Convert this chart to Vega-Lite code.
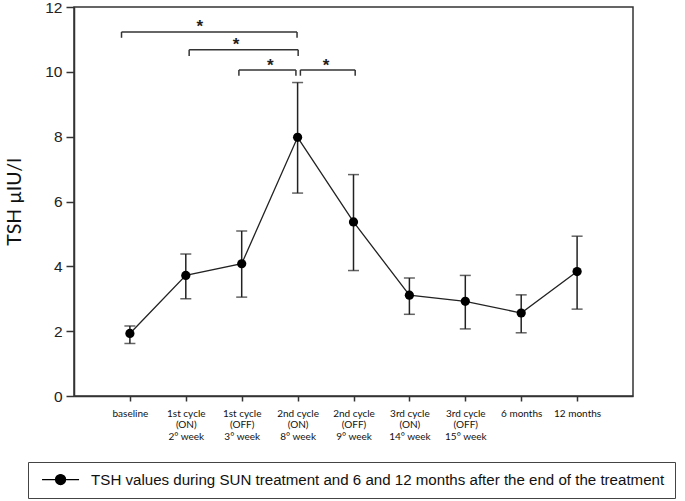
{
  "$schema": "https://vega.github.io/schema/vega-lite/v6.json",
  "width": 559,
  "height": 389,
  "autosize": {"type": "none"},
  "padding": {"left": 74, "top": 7, "right": 52, "bottom": 105},
  "background": "white",
  "config": {
    "view": {"stroke": "#333", "strokeWidth": 1.5},
    "axis": {"domainColor": "#333", "domainWidth": 1.5, "tickColor": "#333", "tickWidth": 1.5, "grid": false}
  },
  "datasets": {
    "tsh": [
      {"label": "baseline", "tsh": 1.93, "lo": 1.62, "hi": 2.16, "series": "TSH values during SUN treatment and 6 and 12 months after the end of the treatment"},
      {"label": "1st cycle|(ON)|2° week", "tsh": 3.72, "lo": 3.0, "hi": 4.38, "series": "TSH values during SUN treatment and 6 and 12 months after the end of the treatment"},
      {"label": "1st cycle|(OFF)|3° week", "tsh": 4.08, "lo": 3.05, "hi": 5.09, "series": "TSH values during SUN treatment and 6 and 12 months after the end of the treatment"},
      {"label": "2nd cycle|(ON)|8° week", "tsh": 7.98, "lo": 6.26, "hi": 9.67, "series": "TSH values during SUN treatment and 6 and 12 months after the end of the treatment"},
      {"label": "2nd cycle|(OFF)|9° week", "tsh": 5.37, "lo": 3.87, "hi": 6.83, "series": "TSH values during SUN treatment and 6 and 12 months after the end of the treatment"},
      {"label": "3rd cycle|(ON)|14° week", "tsh": 3.11, "lo": 2.52, "hi": 3.64, "series": "TSH values during SUN treatment and 6 and 12 months after the end of the treatment"},
      {"label": "3rd cycle|(OFF)|15° week", "tsh": 2.92, "lo": 2.07, "hi": 3.72, "series": "TSH values during SUN treatment and 6 and 12 months after the end of the treatment"},
      {"label": "6 months", "tsh": 2.56, "lo": 1.95, "hi": 3.12, "series": "TSH values during SUN treatment and 6 and 12 months after the end of the treatment"},
      {"label": "12 months", "tsh": 3.84, "lo": 2.68, "hi": 4.93, "series": "TSH values during SUN treatment and 6 and 12 months after the end of the treatment"}
    ],
    "brackets": [
      {"x1": 0.85, "x2": 3.99, "y": 11.23, "yEnd": 11.05, "sx": 2.25, "sy": 11.24},
      {"x1": 2.06, "x2": 4.01, "y": 10.68, "yEnd": 10.49, "sx": 2.9, "sy": 10.66},
      {"x1": 2.95, "x2": 3.97, "y": 10.06, "yEnd": 9.88, "sx": 3.51, "sy": 10.02},
      {"x1": 4.05, "x2": 5.03, "y": 10.06, "yEnd": 9.88, "sx": 4.51, "sy": 10.02}
    ]
  },
  "resolve": {"scale": {"x": "independent"}},
  "layer": [
    {
      "data": {"name": "tsh"},
      "encoding": {
        "x": {
          "field": "label", "type": "nominal", "sort": null,
          "scale": {"type": "point", "padding": 1},
          "axis": {
            "title": null, "labelAngle": 0, "tickSize": 5,
            "labelExpr": "split(datum.label, '|')",
            "labelFont": "Lato", "labelFontSize": 10, "labelColor": "#111",
            "labelLineHeight": 11.7, "labelPadding": 7, "labelBaseline": "top"
          }
        },
        "y": {
          "field": "tsh", "type": "quantitative",
          "scale": {"domain": [0, 12], "nice": false},
          "axis": {
            "title": "TSH µIU/l", "values": [0, 2, 4, 6, 8, 10, 12], "tickSize": 8,
            "labelFont": "Liberation Sans", "labelFontSize": 15.5, "labelColor": "#222", "labelPadding": 4,
            "titleFont": "Lato", "titleFontSize": 19.5, "titleFontWeight": "normal", "titleColor": "#111", "titlePadding": 20
          }
        }
      },
      "layer": [
        {"mark": {"type": "rule", "color": "#222", "strokeWidth": 1.5}, "encoding": {"y": {"field": "lo", "type": "quantitative"}, "y2": {"field": "hi"}}},
        {"mark": {"type": "tick", "color": "#222", "size": 11, "thickness": 1.5}, "encoding": {"y": {"field": "lo", "type": "quantitative"}}},
        {"mark": {"type": "tick", "color": "#222", "size": 11, "thickness": 1.5}, "encoding": {"y": {"field": "hi", "type": "quantitative"}}},
        {"mark": {"type": "line", "color": "#222", "strokeWidth": 1.3}, "encoding": {}},
        {
          "mark": {"type": "point", "filled": true, "size": 85, "opacity": 1},
          "encoding": {
            "color": {
              "field": "series", "type": "nominal",
              "scale": {"range": ["#000"]},
              "legend": {
                "title": null, "orient": "none", "legendX": -46, "legendY": 455,
                "strokeColor": "#444", "fillColor": "white", "padding": 10,
                "labelFont": "Liberation Sans", "labelFontSize": 15.1, "labelColor": "#111",
                "labelLimit": 0, "labelOffset": 23, "symbolOffset": 15,
                "symbolType": "M-3.7,0L3.7,0M-1,0A1,1,0,1,1,1,0A1,1,0,1,1,-1,0Z",
                "symbolSize": 100,
                "symbolFillColor": "#000", "symbolStrokeColor": "#000", "symbolStrokeWidth": 1.3,
                "symbolOpacity": 1,
                "encode": {"symbols": {"update": {"stroke": {"value": "#000"}, "strokeWidth": {"value": 1.3}, "fill": {"value": "#000"}}}}
              }
            }
          }
        }
      ]
    },
    {
      "data": {"name": "brackets"},
      "encoding": {
        "x": {"field": "x1", "type": "quantitative", "scale": {"domain": [0, 10], "nice": false}, "axis": null},
        "y": {"field": "y", "type": "quantitative"}
      },
      "layer": [
        {"mark": {"type": "rule", "color": "#333", "strokeWidth": 1.5}, "encoding": {"x2": {"field": "x2"}}},
        {"mark": {"type": "rule", "color": "#333", "strokeWidth": 1.5}, "encoding": {"y2": {"field": "yEnd"}}},
        {"mark": {"type": "rule", "color": "#333", "strokeWidth": 1.5}, "encoding": {"x": {"field": "x2", "type": "quantitative"}, "y2": {"field": "yEnd"}}},
        {
          "mark": {"type": "text", "text": "*", "font": "Liberation Sans", "fontSize": 17, "fontWeight": "bold", "color": "#222", "baseline": "alphabetic"},
          "encoding": {"x": {"field": "sx", "type": "quantitative"}, "y": {"field": "sy", "type": "quantitative"}}
        }
      ]
    }
  ]
}
